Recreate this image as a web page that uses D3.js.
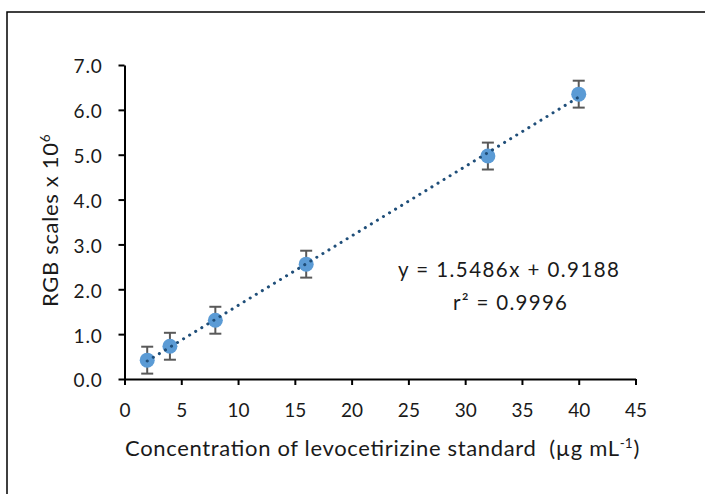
<!DOCTYPE html>
<html>
<head>
<meta charset="utf-8">
<script src="https://cdn.jsdelivr.net/npm/d3@7"></script>
<style>
  html, body { margin: 0; padding: 0; background: #fff; }
  svg { display: block; }
  text { font-family: Lato, "Open Sans", sans-serif; fill: #1a1a1a; }
</style>
</head>
<body>
<svg id="chart" width="705" height="494"></svg>
<script>
// Data
const concentrations = [2, 4, 8, 16, 32, 40];
const rgbValues = [0.42, 0.73, 1.31, 2.56, 4.97, 6.35];
const errors = [0.30, 0.30, 0.30, 0.30, 0.30, 0.30];
const xTicks = [0, 5, 10, 15, 20, 25, 30, 35, 40, 45];
const yTicks = [0, 1, 2, 3, 4, 5, 6, 7];
const equationLines = ["y = 1.5486x + 0.9188", "r² = 0.9996"];
const xTitle = "Concentration of levocetirizine standard\u00a0\u00a0(µg mL";
const yTitle = "RGB scales x 10";

const svg = d3.select("#chart");

// outer frame
svg.append("rect")
  .attr("x", 7).attr("y", 12)
  .attr("width", 720).attr("height", 500)
  .attr("fill", "none").attr("stroke", "#000").attr("stroke-width", 1.5);

const x = d3.scaleLinear().domain([0, 45]).range([124.5, 635.5]);
const y = d3.scaleLinear().domain([0, 7]).range([379, 65]);

const g = svg.append("g");

// Axes
const xAxis = d3.axisBottom(x).tickValues(xTicks).tickSize(6).tickSizeOuter(0).tickFormat(d3.format("d"));
const gx = g.append("g").attr("transform", `translate(0,${y(0)})`).call(xAxis);
gx.select(".domain").attr("stroke", "#000").attr("stroke-width", 2);
gx.selectAll(".tick line").attr("stroke", "#000").attr("stroke-width", 2);
gx.selectAll(".tick text").attr("dy", 0).attr("y", 38).attr("font-size", 19).attr("font-family", "Lato").attr("fill", "#1a1a1a");

const yAxis = d3.axisLeft(y).tickValues(yTicks).tickSize(6).tickSizeOuter(0).tickFormat(d3.format(".1f"));
const gy = g.append("g").attr("transform", `translate(${x(0)},0)`).call(yAxis);
gy.select(".domain").attr("stroke", "#000").attr("stroke-width", 2);
gy.selectAll(".tick line").attr("stroke", "#000").attr("stroke-width", 2);
gy.selectAll(".tick text").attr("x", -22).attr("dy", "0.42em").attr("font-size", 19)
  .attr("letter-spacing", 0.8).attr("font-family", "Lato").attr("fill", "#1a1a1a");

// Trendline (least squares fit of the plotted points)
const mx = d3.mean(concentrations), my = d3.mean(rgbValues);
let sxy = 0, sxx = 0;
concentrations.forEach((c, i) => { sxy += (c - mx) * (rgbValues[i] - my); sxx += (c - mx) * (c - mx); });
const slope = sxy / sxx, intercept = my - slope * mx;
const xMin = d3.min(concentrations), xMax = d3.max(concentrations);

// error bars
const eb = g.append("g").attr("stroke", "#595959").attr("stroke-width", 2);
concentrations.forEach((c, i) => {
  const cx = x(c), top = y(rgbValues[i] + errors[i]), bot = y(rgbValues[i] - errors[i]);
  eb.append("line").attr("x1", cx).attr("x2", cx).attr("y1", top).attr("y2", bot);
  eb.append("line").attr("x1", cx - 6).attr("x2", cx + 6).attr("y1", top).attr("y2", top);
  eb.append("line").attr("x1", cx - 6).attr("x2", cx + 6).attr("y1", bot).attr("y2", bot);
});

// markers
g.append("g").selectAll("circle").data(concentrations).join("circle")
  .attr("cx", d => x(d))
  .attr("cy", (d, i) => y(rgbValues[i]))
  .attr("r", 7.5)
  .attr("fill", "#5b9bd5");

// dotted trendline on top
g.append("line")
  .attr("x1", x(xMin)).attr("y1", y(slope * xMin + intercept))
  .attr("x2", x(xMax)).attr("y2", y(slope * xMax + intercept))
  .attr("stroke", "#1f4e79").attr("stroke-width", 3)
  .attr("stroke-linecap", "round").attr("stroke-dasharray", "0.1 7");

// equation
g.append("text").attr("x", 398).attr("y", 277).attr("font-size", 20.5)
  .attr("textLength", 221).attr("lengthAdjust", "spacing").text(equationLines[0]);
g.append("text").attr("x", 453).attr("y", 310).attr("font-size", 20.5)
  .attr("textLength", 114).attr("lengthAdjust", "spacing").text(equationLines[1]);

// axis titles
const xt = svg.append("text").attr("x", 125).attr("y", 456).attr("font-size", 22);
xt.append("tspan").attr("textLength", 494).attr("lengthAdjust", "spacing").text(xTitle);
xt.append("tspan").attr("dy", -8).attr("font-size", 13.5).text("-1");
xt.append("tspan").attr("dy", 8).attr("dx", 1).text(")");

const yt = svg.append("text").attr("transform", "translate(58,307) rotate(-90)").attr("font-size", 22);
yt.append("tspan").attr("textLength", 164).attr("lengthAdjust", "spacing").text(yTitle);
yt.append("tspan").attr("dy", -8).attr("font-size", 13.5).text("6");
</script>
</body>
</html>
